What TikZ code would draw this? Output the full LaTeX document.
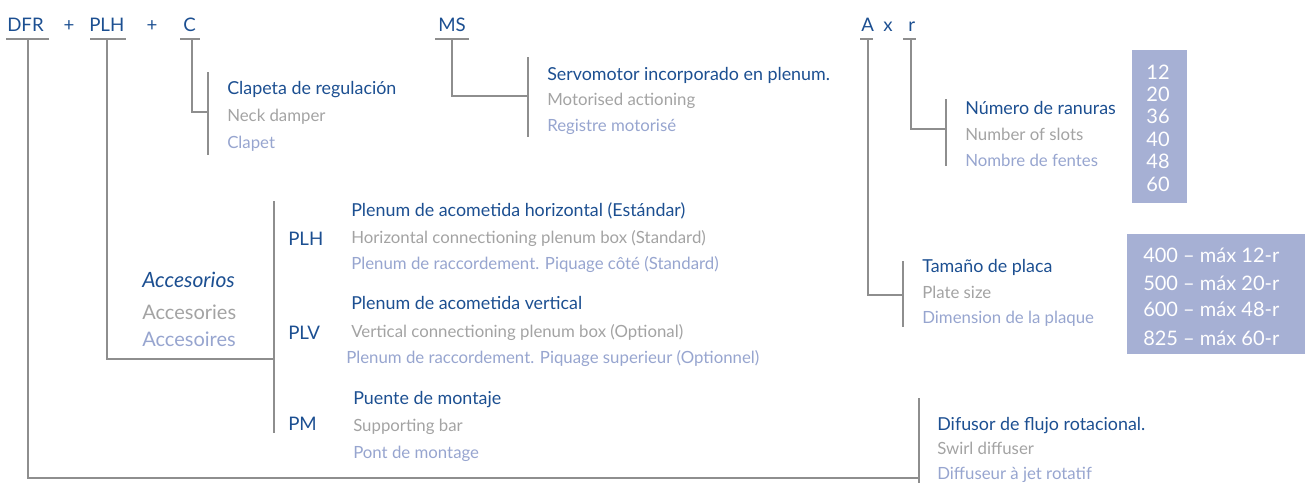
\documentclass[tikz,border=0pt]{standalone}
\usepackage{fontspec}
\setmainfont{Lato}
\definecolor{cblue}{HTML}{1C4F91}
\definecolor{cgrey}{HTML}{A3A3A3}
\definecolor{clight}{HTML}{97A5CF}
\definecolor{cbox}{HTML}{A6B0D4}
\definecolor{cline}{HTML}{8E8E8E}
\begin{document}
\begin{tikzpicture}[x=0.75pt,y=-0.75pt,
  txt/.style={inner sep=0pt,anchor=base west,font=\fontsize{12.6pt}{14pt}\selectfont},
  code/.style={inner sep=0pt,anchor=base west,text=cblue,font=\fontsize{14pt}{16pt}\selectfont},
  ttl/.style={inner sep=0pt,anchor=base west,text=cblue,font=\fontsize{13.4pt}{15pt}\selectfont},
  en/.style={txt,text=cgrey},
  fr/.style={txt,text=clight},
  acc/.style={inner sep=0pt,anchor=base west,font=\fontsize{15pt}{17pt}\selectfont},
  ln/.style={draw=cline,line width=1.1pt},
  boxtxt/.style={inner sep=0pt,text=white,font=\fontsize{15pt}{16pt}\selectfont}]
\useasboundingbox (0,0) rectangle (1305,483);
% codes
\node[code] (dfr) at (7,31) {DFR};
\node[code,anchor=base] (p1) at (69,31) {+};
\node[code] (plh) at (89,31) {PLH};
\node[code,anchor=base] (p2) at (152,31) {+};
\node[code] (c) at (183,31) {C};
\node[code] (ms) at (438,31) {MS};
\node[code] (a) at (861,31) {A};
\node[code] (x) at (883,31) {x};
\node[code] (r) at (908,31) {r};
% underlines
\draw[ln] (6,39) -- (49,39);
\draw[ln] (90,39) -- (126,39);
\draw[ln] (180,39) -- (200,39);
\draw[ln] (435,39) -- (469,39);
\draw[ln] (860,39) -- (873,39);
\draw[ln] (903,39) -- (916,39);
% C branch
\coordinate (cb1) at (208,72); \coordinate (cb2) at (208,155);
\draw[ln] (192,39) |- (208,112);
\draw[ln] (cb1) -- (cb2);
\node[ttl] (c1) at (227,94) {Clapeta de regulación};
\node[en] (c2) at (227,121) {Neck damper};
\node[fr] (c3) at (227,148) {Clapet};
% MS branch
\coordinate (mb1) at (528,57); \coordinate (mb2) at (528,137);
\draw[ln] (452,39) |- (528,96);
\draw[ln] (mb1) -- (mb2);
\node[ttl] (m1) at (547,80) {Servomotor incorporado en plenum.};
\node[en] (m2) at (547,105) {Motorised actioning};
\node[fr] (m3) at (547,131) {Registre motorisé};
% r branch
\coordinate (rb1) at (946,99); \coordinate (rb2) at (946,166);
\draw[ln] (911,39) |- (946,129);
\draw[ln] (rb1) -- (rb2);
\node[ttl] (r1) at (965,114) {Número de ranuras};
\node[en] (r2) at (965,140) {Number of slots};
\node[fr] (r3) at (965,166) {Nombre de fentes};
\fill[cbox] (1132,50) rectangle (1187,203);
\foreach \v/\yy in {12/79,20/101.4,36/123.8,40/146.2,48/168.6,60/191}
  \node[boxtxt,anchor=base] at (1158,\yy) {\v};
% A branch
\coordinate (ab1) at (903,261); \coordinate (ab2) at (903,327);
\draw[ln] (868,39) |- (903,295);
\draw[ln] (ab1) -- (ab2);
\node[ttl] (a1) at (922,272) {Tamaño de placa};
\node[en] (a2) at (922,298) {Plate size};
\node[fr] (a3) at (922,323) {Dimension de la plaque};
\fill[cbox] (1127,234) rectangle (1305,354);
\foreach \v/\yy in {400 – máx 12-r/262,500 – máx 20-r/290,600 – máx 48-r/316,825 – máx 60-r/345}
  \node[boxtxt,anchor=base west] at (1143,\yy) {\v};
% PLH accessories branch
\coordinate (pb1) at (274,201); \coordinate (pb2) at (274,433);
\draw[ln] (107,39) |- (274,359);
\draw[ln] (pb1) -- (pb2);
\node[acc,text=cblue,font=\fontsize{15.8pt}{17pt}\selectfont\itshape] (acc1) at (142,287) {Accesorios};
\node[acc,text=cgrey] (acc2) at (142,319) {Accesories};
\node[acc,text=clight] (acc3) at (142,346) {Accesoires};
\node[code] (kplh) at (288,245) {PLH};
\node[code] (kplv) at (288,339) {PLV};
\node[code] (kpm) at (288,430) {PM};
\node[ttl] (h1) at (351,216) {Plenum de acometida horizontal (Estándar)};
\node[en] (h2) at (351,243) {Horizontal connectioning plenum box (Standard)};
\node[fr] (h3) at (351,269) {Plenum de raccordement. Piquage côté (Standard)};
\node[ttl] (v1) at (351,309) {Plenum de acometida vertical};
\node[en] (v2) at (351,337) {Vertical connectioning plenum box (Optional)};
\node[fr] (v3) at (346,363) {Plenum de raccordement. Piquage superieur (Optionnel)};
\node[ttl] (pm1) at (353,404) {Puente de montaje};
\node[en] (pm2) at (353,431) {Supporting bar};
\node[fr] (pm3) at (353,458) {Pont de montage};
% DFR branch
\coordinate (db1) at (919,398); \coordinate (db2) at (919,483);
\draw[ln] (28,39) |- (919,478);
\draw[ln] (db1) -- (db2);
\node[ttl] (d1) at (937,430) {Difusor de flujo rotacional.};
\node[en] (d2) at (937,454) {Swirl diffuser};
\node[fr] (d3) at (937,479) {Diffuseur à jet rotatif};
\end{tikzpicture}
\end{document}
